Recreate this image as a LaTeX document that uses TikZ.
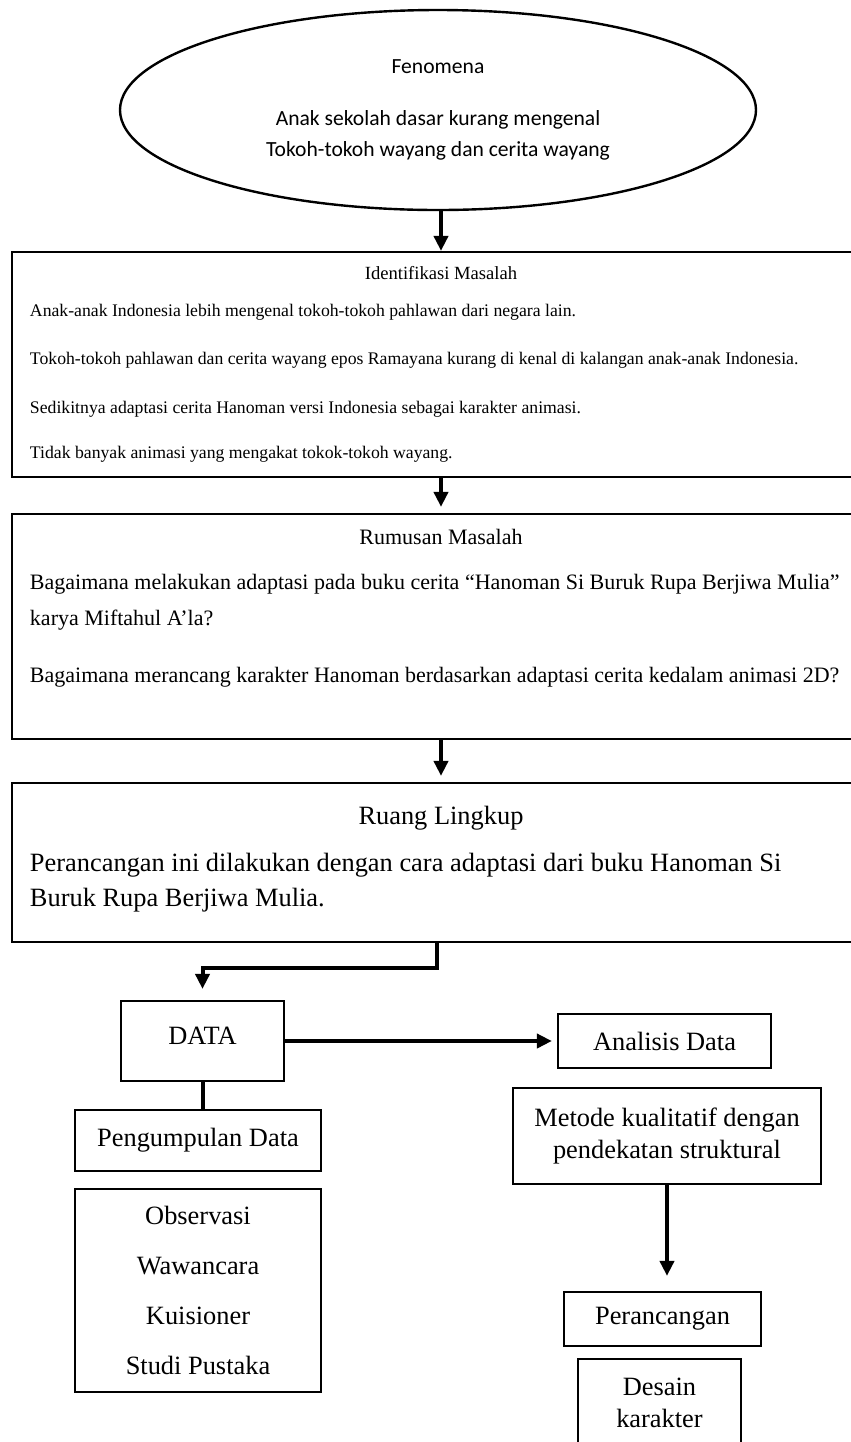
\documentclass[tikz,border=0pt]{standalone}
\usepackage{fontspec}
\setmainfont{Liberation Serif}
\newfontfamily\calibri{Carlito}
\usetikzlibrary{arrows.meta,positioning,shapes.geometric}

\begin{document}
\begin{tikzpicture}[
    x=0.5pt, y=-0.5pt,
    flow/.style={-{Triangle[length=7.5pt,width=7pt]}, line width=2pt},
    link/.style={line width=2pt},
    block/.style={draw, line width=1.1pt, inner sep=0pt, align=center,
                  font=\fontsize{13.2}{16}\selectfont},
    wide/.style={block, inner xsep=9pt, inner ysep=0pt, align=left}
  ]
  \clip (0,0) rectangle (851,1442);

  \node[draw, ellipse, line width=1.2pt, minimum width=318pt, minimum height=100pt,
        inner sep=0pt, align=center, font=\calibri\fontsize{10.8}{13}\selectfont]
    (fenomena) at (438,110)
    {Fenomena\\[13pt]
     Anak sekolah dasar kurang mengenal\\[2.5pt]
     Tokoh-tokoh wayang dan cerita wayang};

  \node[wide, font=\fontsize{8.85}{11}\selectfont] (ident) at (441,364.5)
    {\parbox[c][112.5pt][t]{411pt}{\raggedright\vspace*{7pt}%
     \makebox[\linewidth]{\fontsize{9.3}{11}\selectfont Identifikasi Masalah}\\[7.5pt]
     Anak-anak Indonesia lebih mengenal tokoh-tokoh pahlawan dari negara lain.\\[13pt]
     Tokoh-tokoh pahlawan dan cerita wayang epos Ramayana kurang di kenal di kalangan anak-anak Indonesia.\\[13.5pt]
     Sedikitnya adaptasi cerita Hanoman versi Indonesia sebagai karakter animasi.\\[11.5pt]
     Tidak banyak animasi yang mengakat tokok-tokoh wayang.}};

  \node[wide, font=\fontsize{11}{13}\selectfont] (rumusan) at (441,626.5)
    {\parbox[c][112.5pt][t]{411pt}{\raggedright\vspace*{7.6pt}%
     \makebox[\linewidth]{Rumusan Masalah}\\[9.5pt]
     Bagaimana melakukan adaptasi pada buku cerita “Hanoman Si Buruk Rupa Berjiwa Mulia”\\[5pt]
     karya Miftahul A’la?\\[15.5pt]
     Bagaimana merancang karakter Hanoman berdasarkan adaptasi cerita kedalam animasi 2D?}};

  \node[wide, font=\fontsize{13.2}{15.5}\selectfont] (ruang) at (441,862.5)
    {\parbox[c][79.5pt][t]{411pt}{\raggedright\vspace*{11.4pt}%
     \makebox[\linewidth]{Ruang Lingkup}\\[8pt]
     Perancangan ini dilakukan dengan cara adaptasi dari buku Hanoman Si\\[2pt]
     Buruk Rupa Berjiwa Mulia.}};

  \node[block, minimum width=81.5pt, minimum height=40pt] (data) at (202.5,1041)
    {\raisebox{5pt}{DATA}};
  \node[block, minimum width=106.5pt, minimum height=27pt] (analisis) at (664.5,1041)
    {Analisis Data};
  \node[block, minimum width=123pt, minimum height=30.5pt] (pengumpulan) at (198,1140.5)
    {Pengumpulan Data};
  \node[block, minimum width=154pt, minimum height=48pt] (metode) at (667,1136)
    {Metode kualitatif dengan\\ pendekatan struktural};
  \node[block, minimum width=123pt, minimum height=101.5pt,
        font=\fontsize{13.2}{25}\selectfont] (teknik) at (198,1290.5)
    {Observasi\\ Wawancara\\ Kuisioner\\ Studi Pustaka};
  \node[block, minimum width=98.5pt, minimum height=27pt] (perancangan) at (662.5,1319)
    {Perancangan};
  \node[block, minimum width=81.5pt, minimum height=44pt] (desain) at (659.5,1403)
    {Desain\\ karakter};

  \draw[flow] (fenomena.south -| ident.north) -- (ident.north);
  \draw[flow, shorten >=3pt] (ident.south) -- (rumusan.north);
  \draw[flow, shorten >=3pt] (rumusan.south) -- (ruang.north);
  \draw[flow, shorten >=5.5pt] ([xshift=-2pt]ruang.south) -- ++(0,25) -| (data.north);
  \draw[flow, shorten >=2.5pt] (data.east) -- (analisis.west);
  \draw[link] (data.south) -- (data.south |- pengumpulan.north);
  \draw[flow, shorten >=7.5pt] (metode.south) -- (metode.south |- perancangan.north);
\end{tikzpicture}
\end{document}
